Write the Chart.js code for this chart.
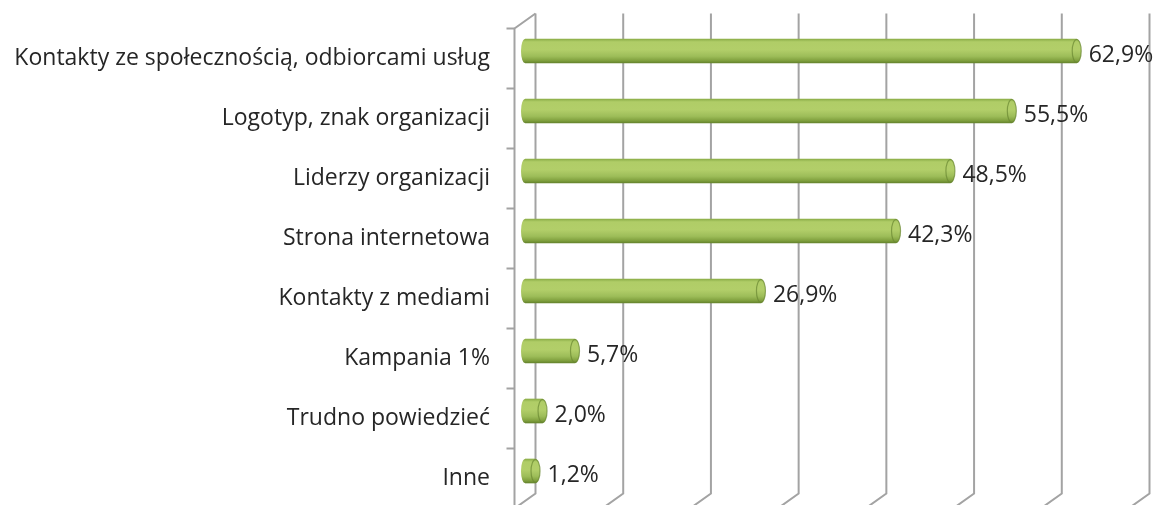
<!DOCTYPE html>
<html>
<head>
<meta charset="utf-8">
<script src="https://cdn.jsdelivr.net/npm/chart.js@4"></script>
<style>
  html, body { margin: 0; padding: 0; background: #fff; overflow: hidden; }
  #c { display: block; }
</style>
</head>
<body>
<canvas id="c" width="1157" height="505" style="width:1157px;height:505px"></canvas>
<script>
// Survey answers and their shares (%)
const categories = [
  'Kontakty ze społecznością, odbiorcami usług',
  'Logotyp, znak organizacji',
  'Liderzy organizacji',
  'Strona internetowa',
  'Kontakty z mediami',
  'Kampania 1%',
  'Trudno powiedzieć',
  'Inne'
];
const shares = [62.9, 55.5, 48.5, 42.3, 26.9, 5.7, 2.0, 1.2];
const axisTicks = [0, 10, 20, 30, 40, 50, 60, 70];

const FONT = '"Open Sans", sans-serif';
const FONT_SIZE = 23;
const DEPTH_X = 10.5;   // half of the 3D depth shift, horizontal
const DEPTH_Y = 7.5;    // half of the 3D depth shift, vertical
const BAR_H = 24;
const GRID = '#a3a3a3';

function fmt(v) { return v.toFixed(1).replace('.', ',') + '%'; }

function cylinderGradient(ctx, y) {
  const g = ctx.createLinearGradient(0, y - BAR_H / 2, 0, y + BAR_H / 2);
  g.addColorStop(0.00, '#8cad48');
  g.addColorStop(0.12, '#b0cd67');
  g.addColorStop(0.45, '#b2ce69');
  g.addColorStop(0.72, '#9dbd59');
  g.addColorStop(0.90, '#80a03e');
  g.addColorStop(1.00, '#65842d');
  return g;
}

// Back wall, floor edges and left wall drawn in pseudo-3D
const walls = {
  id: 'walls',
  beforeDatasetsDraw(chart) {
    const { ctx, chartArea, scales } = chart;
    const x = scales.x;
    ctx.save();
    ctx.strokeStyle = GRID;
    ctx.lineWidth = 2;
    axisTicks.forEach(v => {
      const px = x.getPixelForValue(v) + DEPTH_X;
      ctx.beginPath();
      ctx.moveTo(px, chartArea.top - DEPTH_Y);
      ctx.lineTo(px, chartArea.bottom - DEPTH_Y);
      ctx.lineTo(px - 2 * DEPTH_X, chartArea.bottom + DEPTH_Y);
      ctx.stroke();
    });
    const fx = x.getPixelForValue(0) - DEPTH_X;
    const top = chartArea.top + DEPTH_Y;
    const bottom = chartArea.bottom + DEPTH_Y;
    ctx.beginPath();
    ctx.moveTo(fx + 2 * DEPTH_X, chartArea.top - DEPTH_Y);
    ctx.lineTo(fx, top);
    ctx.lineTo(fx, bottom);
    ctx.stroke();
    const n = categories.length;
    const step = (chartArea.bottom - chartArea.top) / n;
    for (let i = 0; i <= n; i++) {
      const ty = top + i * step;
      ctx.beginPath();
      ctx.moveTo(fx - 8, ty);
      ctx.lineTo(fx, ty);
      ctx.stroke();
    }
    ctx.restore();
  },
  afterDatasetsDraw(chart) {
    const { ctx } = chart;
    const meta = chart.getDatasetMeta(0);
    ctx.save();
    meta.data.forEach((bar, i) => {
      const y = bar.y;
      const h = BAR_H / 2;
      // rounded start of the cylinder
      ctx.beginPath();
      ctx.ellipse(bar.base, y, 4, h, 0, Math.PI / 2, Math.PI * 1.5);
      ctx.closePath();
      ctx.fillStyle = cylinderGradient(ctx, y);
      ctx.fill();
      // end cap
      ctx.beginPath();
      ctx.ellipse(bar.x, y, 4.5, h, 0, 0, Math.PI * 2);
      ctx.fillStyle = cylinderGradient(ctx, y);
      ctx.fill();
      ctx.beginPath();
      ctx.ellipse(bar.x, y, 4.5, h - 0.5, 0, 0, Math.PI * 2);
      ctx.strokeStyle = 'rgba(105,135,50,0.7)';
      ctx.lineWidth = 1.2;
      ctx.stroke();
      // value label
      ctx.fillStyle = '#262626';
      ctx.font = FONT_SIZE + 'px ' + FONT;
      ctx.textAlign = 'left';
      ctx.textBaseline = 'middle';
      ctx.fillText(fmt(shares[i]), bar.x + 12, y + 4);
    });
    ctx.restore();
  }
};

new Chart(document.getElementById('c'), {
  type: 'bar',
  data: {
    labels: categories,
    datasets: [{
      data: shares,
      barThickness: BAR_H,
      borderWidth: 0,
      backgroundColor: (c) => {
        const chart = c.chart;
        if (!chart.chartArea) return '#9bbb59';
        const y = chart.scales.y.getPixelForValue(c.dataIndex);
        return cylinderGradient(chart.ctx, y);
      }
    }]
  },
  options: {
    indexAxis: 'y',
    responsive: false,
    maintainAspectRatio: false,
    animation: false,
    devicePixelRatio: 1,
    layout: { padding: { top: 21, bottom: 4, right: 18, left: 0 } },
    plugins: { legend: { display: false }, tooltip: { enabled: false } },
    scales: {
      x: { display: false, min: 0, max: 70 },
      y: {
        afterFit(scale) {
          scale.width = 525;
          scale.paddingTop = 0;
          scale.paddingBottom = 0;
        },
        grid: { display: false },
        border: { display: false },
        ticks: {
          padding: 27,
          labelOffset: 7,
          color: '#262626',
          font: { family: FONT, size: FONT_SIZE }
        }
      }
    }
  },
  plugins: [walls]
});
</script>
</body>
</html>
